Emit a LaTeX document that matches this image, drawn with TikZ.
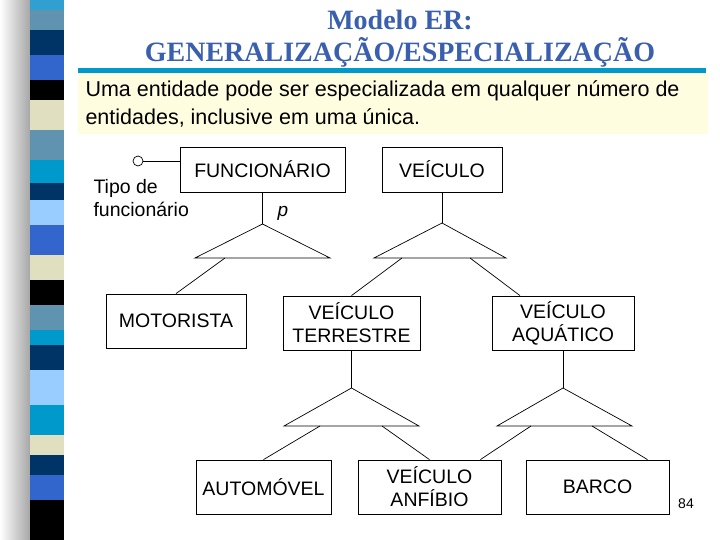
\documentclass[tikz,border=0pt]{standalone}
\usepackage{fontspec}
\setmainfont{Liberation Sans}
\newfontfamily\titlefont{Liberation Serif}
\begin{document}
\begin{tikzpicture}[x=1pt,y=-1pt,
  ent/.style={draw,line width=0.8pt,align=center,inner sep=0pt,font=\fontsize{19.5}{23}\selectfont},
  ln/.style={line width=0.7pt}]
\useasboundingbox (0,0) rectangle (720,540);
\fill[white] (0,0) rectangle (720,540);
\shade[left color=white,right color=gray!70] (0,0) rectangle (30,540);
\definecolor{cA}{HTML}{2FA0D0}\definecolor{cS}{HTML}{5F93B0}\definecolor{cN}{HTML}{003366}
\definecolor{cR}{HTML}{3366CC}\definecolor{cB}{HTML}{000000}\definecolor{cE}{HTML}{E0E0C0}
\definecolor{cC}{HTML}{0099CC}\definecolor{cL}{HTML}{99CCFF}
\foreach \a/\b/\c in {0/10/cA,10/30/cS,30/55/cN,55/80/cR,80/100/cB,100/130/cE,130/160/cS,160/183/cC,183/200/cN,200/225/cL,225/255/cR,255/280/cE,280/305/cB,305/330/cS,330/345/cC,345/370/cN,370/405/cL,405/435/cC,435/455/cE,455/475/cN,475/500/cR,500/540/cB}
  \fill[\c] (30,\a) rectangle (64,\b);
\definecolor{tblue}{HTML}{3A5FAF}
\node[font=\titlefont\bfseries\fontsize{28}{32}\selectfont,text=tblue] (t1) at (400,20) {Modelo ER:};
\node[font=\titlefont\bfseries\fontsize{28}{32}\selectfont,text=tblue] (t2) at (400,52) {GENERALIZAÇÃO/ESPECIALIZAÇÃO};
\fill[cC] (78,68) rectangle (706,73);
\fill[yellow!12] (78,73) rectangle (708,134);
\node[anchor=west,align=left,font=\fontsize{21.5}{28}\selectfont] (txt) at (82,104) {Uma entidade pode ser especializada em qualquer número de\\entidades, inclusive em uma única.};
% entities
\node[ent,minimum width=165,minimum height=45] (fun) at (262.5,169.5) {FUNCIONÁRIO};
\node[ent,minimum width=120,minimum height=45] (vei) at (442,169.5) {VEÍCULO};
\node[ent,minimum width=140,minimum height=54] (mot) at (176,321) {MOTORISTA};
\node[ent,minimum width=137,minimum height=54] (ter) at (351.5,323) {VEÍCULO\\TERRESTRE};
\node[ent,minimum width=142,minimum height=54] (aqu) at (563,323) {VEÍCULO\\AQUÁTICO};
\node[ent,minimum width=135,minimum height=54] (aut) at (263.5,487) {AUTOMÓVEL};
\node[ent,minimum width=143,minimum height=54] (anf) at (429.5,487) {VEÍCULO\\ANFÍBIO};
\node[ent,minimum width=143,minimum height=54] (bar) at (597.5,487) {BARCO};
% attribute
\draw[ln] (138,161) circle (5);
\coordinate (c0) at (143,161);
\draw[ln] (c0) -- (fun.west |- c0);
\node[anchor=north west,align=left,font=\fontsize{19.5}{23}\selectfont] (tipo) at (90,176) {Tipo de\\funcionário};
\node[font=\itshape\fontsize{19}{22}\selectfont] (p) at (283,213) {p};
% triangles
\draw[ln] (fun.south) -- (262.5,224);
\draw[ln] (262.5,224) -- (330,258) -- (195,258) -- cycle;
\draw[ln] (225,258) -- (mot.north);
\draw[ln] (vei.south) -- (442,223);
\draw[ln] (442,223) -- (506,258) -- (374,258) -- cycle;
\draw[ln] (402,258) -- (ter.north);
\draw[ln] (470,258) -- ([xshift=-43pt]aqu.north);
\draw[ln] (ter.south) -- (351.5,388);
\draw[ln] (351.5,388) -- (419,426) -- (284,426) -- cycle;
\draw[ln] (320,426) -- (aut.north);
\draw[ln] (382,426) -- (anf.north);
\draw[ln] (aqu.south) -- (563,388);
\draw[ln] (563,388) -- (632,426) -- (497,426) -- cycle;
\draw[ln] (531,426) -- ([xshift=-21pt]anf.north east);
\draw[ln] (592,426) -- ([xshift=50pt]bar.north);
\node[font=\fontsize{14}{16}\selectfont] (pg) at (686,504) {84};
\end{tikzpicture}
\end{document}
